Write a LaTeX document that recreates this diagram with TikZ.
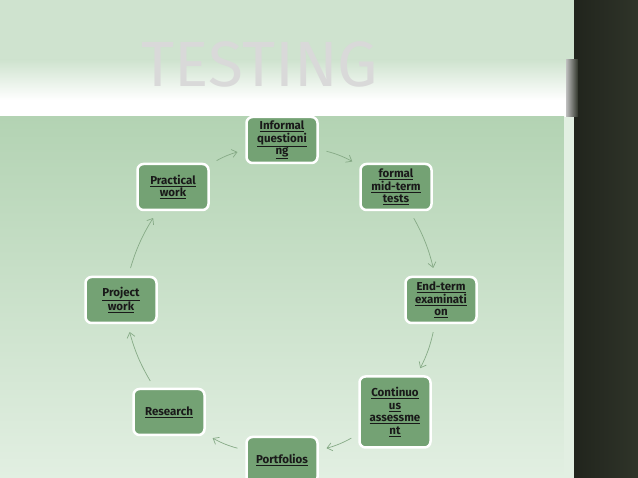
\documentclass[tikz,border=0pt]{standalone}
\usepackage{fontspec}
\setmainfont{Fira Sans}
\usetikzlibrary{arrows.meta}
\definecolor{topg}{HTML}{CFE3CF}
\definecolor{panel}{HTML}{B3D3B3}
\definecolor{panelb}{HTML}{E2EFE2}
\definecolor{boxg}{HTML}{74A274}
\definecolor{arrg}{HTML}{86AA86}
\definecolor{darks}{HTML}{2F3429}
\tikzset{
  box/.style={draw=white,line width=2.5pt,fill=boxg,rounded corners=6pt,minimum width=71pt,minimum height=46pt,text width=66pt,align=center,font=\bfseries\fontsize{11.5}{12.5}\selectfont,text=black!90,inner sep=1pt},
  arr/.style={draw=arrg,line width=0.7pt,-{Straight Barb[length=5pt,width=8pt]},shorten >=8pt,shorten <=8pt},
}
\newcommand{\ul}[1]{\underline{#1}}
\begin{document}
\begin{tikzpicture}[x=1pt,y=-1pt]
\useasboundingbox (0,0) rectangle (638,478);
\fill[topg] (0,0) rectangle (574,90);
\shade[top color=topg,bottom color=white] (0,60) rectangle (574,100);
\fill[white] (0,100) rectangle (574,117);
\shade[top color=panel,bottom color=panelb] (0,117) rectangle (564,478);
\fill[panelb] (564,117) rectangle (574,478);
\shade[left color=darks!70!black,right color=darks] (574,0) rectangle (638,478);
\shade[left color=gray!50,right color=darks] (566,60) rectangle (578,117);
\node[font=\fontsize{64}{64}\selectfont,text=gray!30] (title) at (260,64) {TESTING};
\node[box] (iq) at (282,140) {\ul{Informal}\\\ul{questioni}\\\ul{ng}};
\node[box] (fm) at (396,187) {\ul{formal}\\\ul{mid-term}\\\ul{tests}};
\node[box] (et) at (441,300) {\ul{End-term}\\\ul{examinati}\\\ul{on}};
\node[box,minimum height=71pt] (ca) at (395,412) {\ul{Continuo}\\\ul{us}\\\ul{assessme}\\\ul{nt}};
\node[box] (pf) at (282,460) {\ul{Portfolios}};
\node[box] (rs) at (169,412) {\ul{Research}};
\node[box] (pj) at (121,300) {\ul{Project}\\\ul{work}};
\node[box] (pw) at (173,187) {\ul{Practical}\\\ul{work}};
\draw[arr] (pw) to[bend left=8] (iq);
\draw[arr] (iq) to[bend left=8] (fm);
\draw[arr] (fm) to[bend left=8] (et);
\draw[arr] (et) to[bend left=8] (ca);
\draw[arr] (ca) to[bend left=8] (pf);
\draw[arr] (pf) to[bend left=8] (rs);
\draw[arr] (rs) to[bend left=8] (pj);
\draw[arr] (pj) to[bend left=8] (pw);
\end{tikzpicture}
\end{document}
